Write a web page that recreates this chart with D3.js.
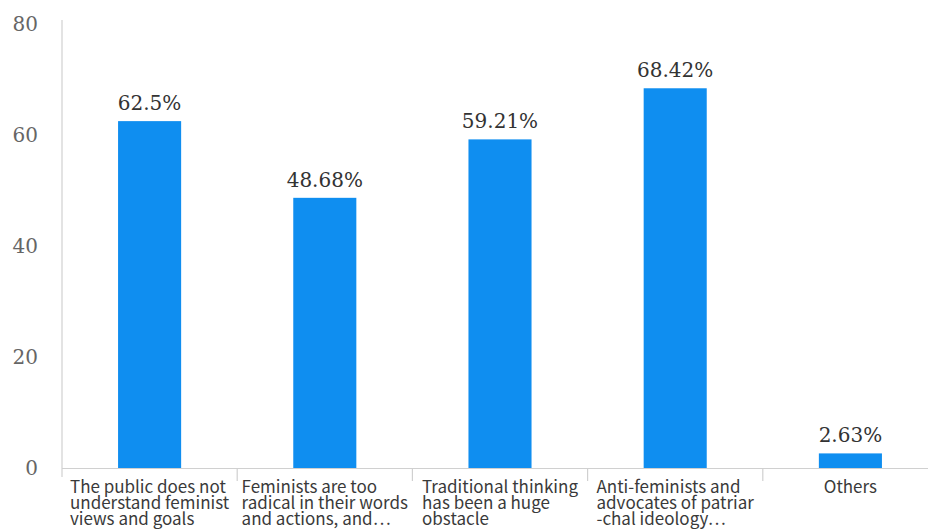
<!DOCTYPE html>
<html>
<head>
<meta charset="utf-8">
<script src="https://cdn.jsdelivr.net/npm/d3@7/dist/d3.min.js"></script>
<style>
  html, body { margin: 0; padding: 0; background: #fff; }
  svg { display: block; }
</style>
</head>
<body>
<svg id="chart" width="928" height="529"></svg>
<script>
// Reasons cited as obstacles for feminism (share of respondents, %)
const categories = [
  ["The public does not", "understand feminist", "views and goals"],
  ["Feminists are too", "radical in their words", "and actions, and\u22ef"],
  ["Traditional thinking", "has been a huge", "obstacle"],
  ["Anti-feminists and", "advocates of patriar", "-chal ideology\u22ef"],
  ["Others"]
];
const values = [62.5, 48.68, 59.21, 68.42, 2.63];
const valueLabels = ["62.5%", "48.68%", "59.21%", "68.42%", "2.63%"];
const yTicks = [0, 20, 40, 60, 80];

const svg = d3.select("#chart");
const margin = { left: 62, top: 24, bottom: 468, right: 938 };

const x = d3.scaleBand()
  .domain(d3.range(categories.length))
  .range([margin.left, margin.right]);

const y = d3.scaleLinear()
  .domain([0, 80])
  .range([margin.bottom, margin.top]);

const axisColor = "#d0d0d0";

// y axis line
svg.append("line")
  .attr("x1", margin.left).attr("x2", margin.left)
  .attr("y1", y(80) - 4).attr("y2", y(0) + 9)
  .attr("stroke", axisColor).attr("stroke-width", 1.2);

// y tick labels
svg.append("g").selectAll("text")
  .data(yTicks)
  .join("text")
  .attr("x", margin.left - 24)
  .attr("y", d => y(d))
  .attr("dy", "0.36em")
  .attr("text-anchor", "end")
  .attr("font-family", "DejaVu Serif")
  .attr("font-size", 20)
  .attr("fill", "#666")
  .text(d => d);

// x axis baseline and category separators
svg.append("line")
  .attr("x1", margin.left).attr("x2", 928)
  .attr("y1", y(0) + 0.5).attr("y2", y(0) + 0.5)
  .attr("stroke", axisColor).attr("stroke-width", 1.2);

svg.append("g").selectAll("line")
  .data(d3.range(1, categories.length))
  .join("line")
  .attr("x1", i => x(i)).attr("x2", i => x(i))
  .attr("y1", y(0)).attr("y2", y(0) + 13)
  .attr("stroke", axisColor).attr("stroke-width", 1.2);

// bars
const barW = x.bandwidth() * 0.36;
svg.append("g").selectAll("rect")
  .data(values)
  .join("rect")
  .attr("x", (d, i) => x(i) + (x.bandwidth() - barW) / 2)
  .attr("y", d => y(d))
  .attr("width", barW)
  .attr("height", d => y(0) - y(d))
  .attr("fill", "#0f8ef0");

// value labels
svg.append("g").selectAll("text")
  .data(values)
  .join("text")
  .attr("x", (d, i) => x(i) + x.bandwidth() / 2)
  .attr("y", d => y(d) - 11)
  .attr("text-anchor", "middle")
  .attr("font-family", "DejaVu Serif")
  .attr("font-size", 20)
  .attr("fill", "#333")
  .text((d, i) => valueLabels[i]);

// category labels: left-aligned lines, block centred in its band
const catG = svg.append("g");
categories.forEach((lines, i) => {
  const t = catG.append("text")
    .attr("font-family", "Noto Sans CJK SC")
    .attr("font-size", 17)
    .attr("fill", "#3a3a3a")
    .attr("y", y(0) + 25);
  lines.forEach((ln, j) => {
    t.append("tspan").attr("x", 0).attr("dy", j === 0 ? 0 : 16).text(ln);
  });
  let w = 0;
  t.selectAll("tspan").each(function () { w = Math.max(w, this.getComputedTextLength()); });
  const cx = x(i) + x.bandwidth() / 2;
  if (lines.length === 1) {
    t.attr("text-anchor", "middle").selectAll("tspan").attr("x", cx);
  } else {
    t.selectAll("tspan").attr("x", cx - w / 2);
  }
});
</script>
</body>
</html>
